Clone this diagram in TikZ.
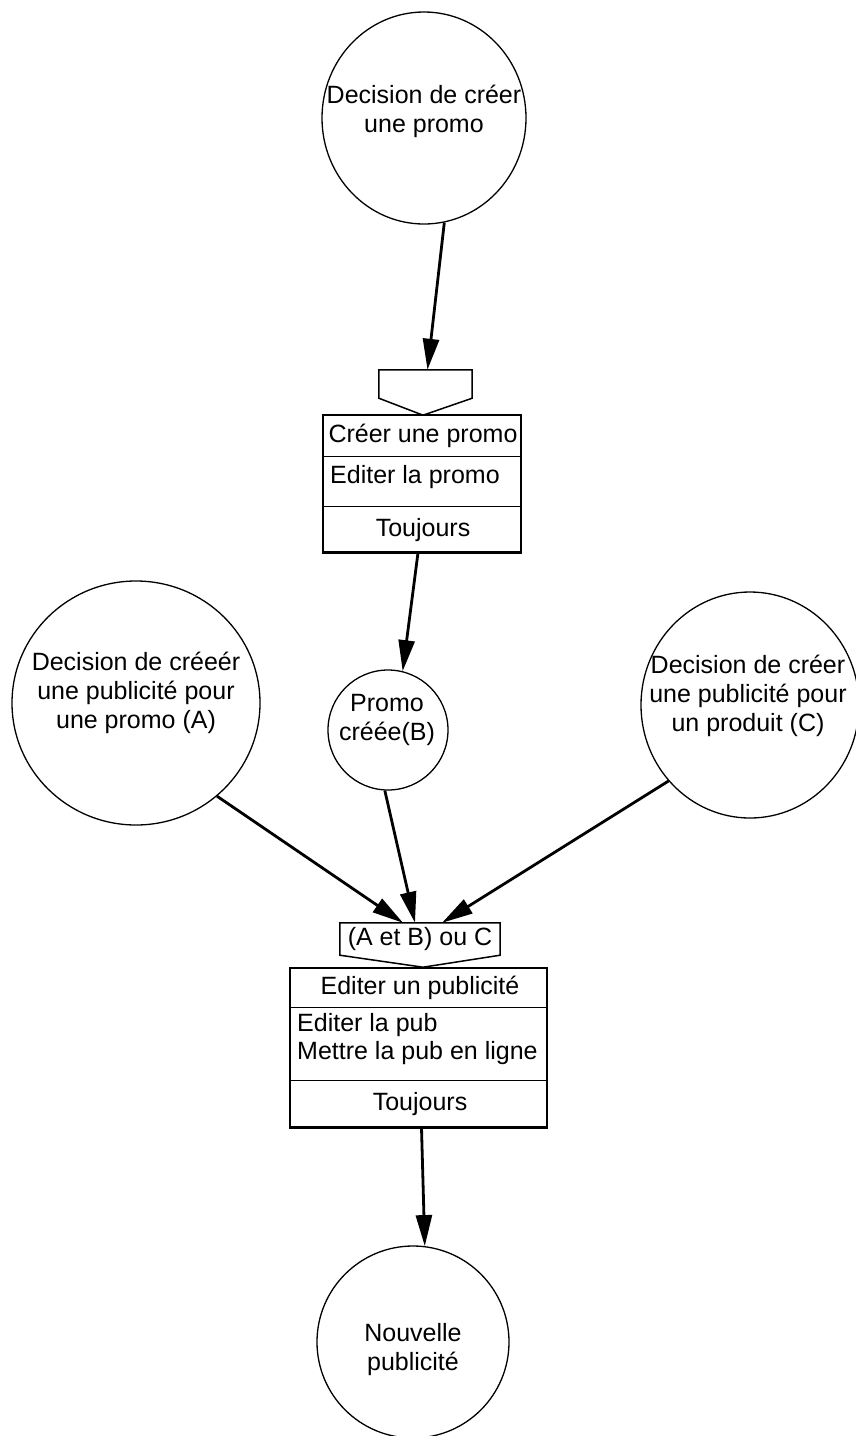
\documentclass[tikz,border=0pt]{standalone}
\usepackage{fontspec}
\setmainfont{Liberation Sans}
\usetikzlibrary{arrows.meta,calc,shapes.geometric}
\begin{document}
\begin{tikzpicture}[x=1pt,y=-1pt,
  txt/.style={font=\fontsize{25}{29}\selectfont, align=center, inner sep=0pt},
  state/.style={ellipse, draw, line width=1.3pt, inner sep=0pt},
  frame/.style={draw, line width=1.5pt, inner sep=0pt},
  shell/.style={inner sep=0pt},
  divider/.style={line width=0.8pt},
  shadow/.style={line width=3pt},
  flow/.style={line width=2.8pt, -{Triangle[length=31pt,width=16pt]}}
]
\useasboundingbox (0,0) rectangle (856,1436);

% events
\node[state, minimum width=204pt, minimum height=212pt] (T) at (424,118) {};
\node[txt] (Tt) at (424,111) {Decision de créer\\une promo};

\node[state, minimum width=248pt, minimum height=244pt] (A) at (136,703) {};
\node[txt] (At) at (136,693) {Decision de créeér\\une publicité pour\\une promo (A)};

\node[state, minimum size=120pt] (B) at (388,730) {};
\node[txt] (Bt) at (387,720) {Promo\\créée(B)};

\node[state, minimum width=218pt, minimum height=226pt] (C) at (750,705) {};
\node[txt] (Ct) at (748,696) {Decision de créer\\une publicité pour\\un produit (C)};

\node[state, minimum width=192pt, minimum height=192pt] (N) at (413,1342) {};
\node[txt] (Nt) at (413,1350) {Nouvelle\\publicité};

% function 1: trigger pentagon and body
\node[shell, minimum width=93pt, minimum height=28pt] (p1) at (425.5,384) {};
\draw[frame] (p1.north west) -- (p1.north east) -- (p1.south east)
  -- ($(p1.south)+(-2.5,17)$) -- (p1.south west) -- cycle;

\node[frame, minimum width=198pt, minimum height=137pt] (b1) at (422,483.5) {};
\draw[divider] ($(b1.north west)+(0,42)$) -- ($(b1.north east)+(0,42)$);
\draw[divider] ($(b1.north west)+(0,92)$) -- ($(b1.north east)+(0,92)$);
\draw[shadow] (b1.south west) -- (b1.south east);
\node[txt] (b1a) at (423,436) {Créer une promo};
\node[txt, anchor=west] (b1b) at (330,477) {Editer la promo};
\node[txt] (b1c) at (423,530) {Toujours};

% function 2: trigger pentagon and body
\node[shell, minimum width=160pt, minimum height=32pt] (p2) at (420,939) {};
\draw[frame] (p2.north west) -- (p2.north east) -- (p2.south east)
  -- ($(p2.south)+(3,12)$) -- (p2.south west) -- cycle;
\node[txt] (p2t) at (420,939) {(A et B) ou C};

\node[frame, minimum width=257pt, minimum height=159pt] (b2) at (418.5,1047.5) {};
\draw[divider] ($(b2.north west)+(0,40)$) -- ($(b2.north east)+(0,40)$);
\draw[line width=1.5pt] ($(b2.north west)+(0,113)$) -- ($(b2.north east)+(0,113)$);
\draw[shadow] (b2.south west) -- (b2.south east);
\node[txt] (b2a) at (420,988) {Editer un publicité};
\node[txt, anchor=west] (b2b) at (297,1025) {Editer la pub};
\node[txt, anchor=west] (b2c) at (297,1053) {Mettre la pub en ligne};
\node[txt] (b2d) at (420,1104) {Toujours};

% flows
\draw[flow] (T.-79) -- ($(p1.north)+(2,0)$);
\draw[flow] ($(b1.south)+(-4,0)$) -- (B.76);
\draw[flow] (A.-49) -- ($(p2.north)+(-17,0)$);
\draw[flow] (B.-93) -- ($(p2.north)+(-5,0)$);
\draw[flow] (C.-137) -- ($(p2.north)+(22,0)$);
\draw[flow] ($(b2.south)+(3,0)$) -- (N.83);
\end{tikzpicture}
\end{document}
